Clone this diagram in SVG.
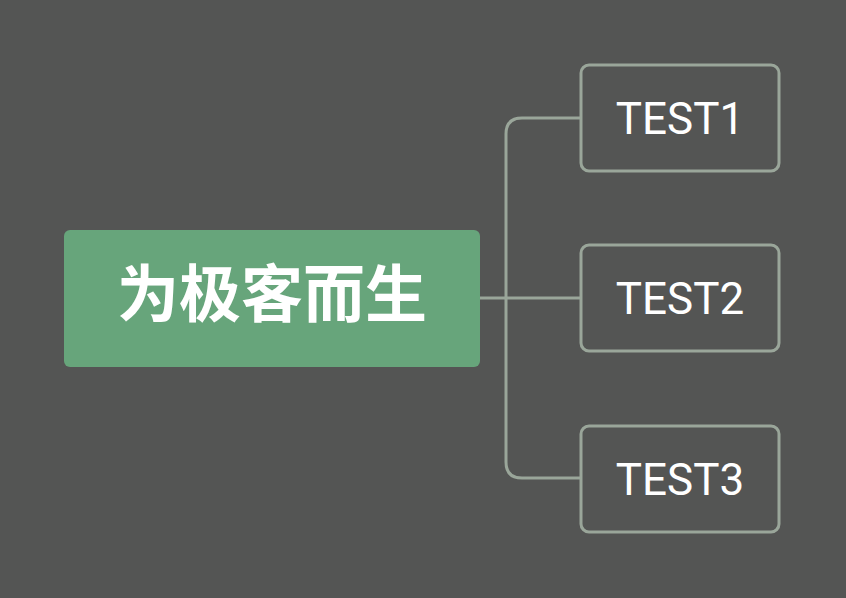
<svg xmlns="http://www.w3.org/2000/svg" width="846" height="598" viewBox="0 0 846 598">
<style>
.c{fill:none;stroke:#9aa69a;stroke-width:3}
.b{fill:#545554;stroke:#9aa69a;stroke-width:3}
.t{fill:#fff;font-family:Roboto,"Liberation Sans",sans-serif;font-size:44px;text-anchor:middle}
</style>
<rect width="846" height="598" fill="#545554"/>
<g id="connectors">
<path class="c" d="M480 298H581M581 118H522Q506 118 506 134V462Q506 478 522 478H581"/>
</g>
<g id="root"><rect x="64" y="230" width="416" height="137" rx="6" fill="#67a57b"/>
<text x="272" y="317" fill="#fff" font-family="'Noto Sans CJK SC',sans-serif" font-weight="bold" font-size="62" text-anchor="middle">为极客而生</text></g>
<g id="n1"><rect class="b" x="581" y="65" width="198" height="106" rx="8"/><text class="t" x="680" y="134">TEST1</text></g>
<g id="n2"><rect class="b" x="581" y="245" width="198" height="106" rx="8"/><text class="t" x="680" y="314">TEST2</text></g>
<g id="n3"><rect class="b" x="581" y="426" width="198" height="106" rx="8"/><text class="t" x="680" y="495">TEST3</text></g>
</svg>
